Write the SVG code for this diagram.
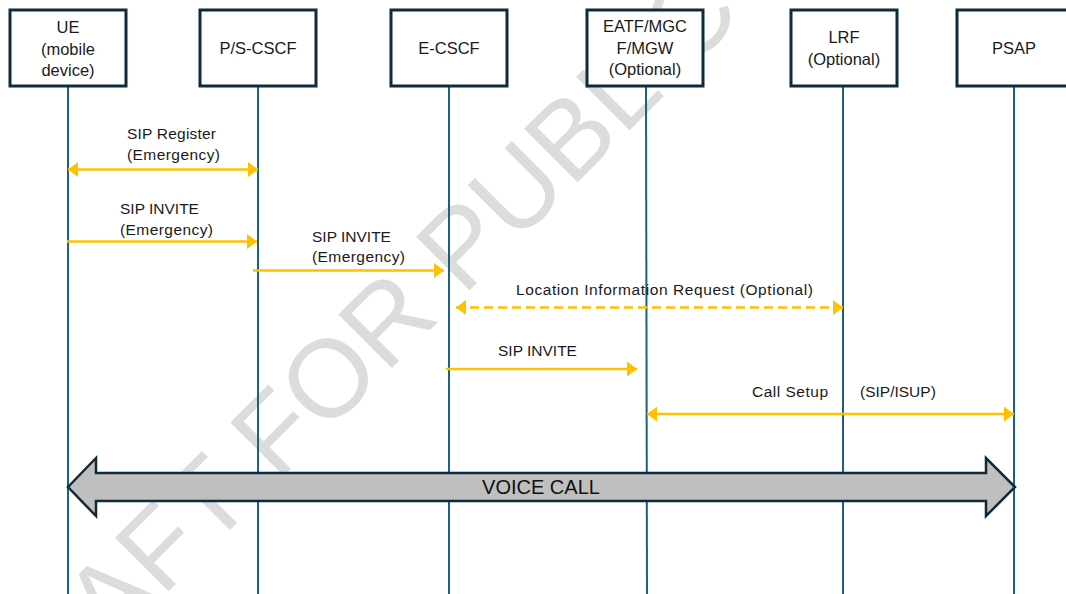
<svg xmlns="http://www.w3.org/2000/svg" width="1066" height="594" viewBox="0 0 1066 594">
  <style>
    .box { fill: #ffffff; stroke: #0f2a3a; stroke-width: 3; }
    .life { stroke: #1f5f7f; stroke-width: 2; fill: none; }
    .msg { stroke: #ffc000; stroke-width: 2.5; fill: none; }
    .dash { stroke-dasharray: 9 5; }
    .lbl { font-family: "Liberation Sans", Arial, sans-serif; font-size: 15.5px; fill: #1a1a1a; }
    .node { font-family: "Liberation Sans", Arial, sans-serif; font-size: 16.5px; fill: #1a1a1a; text-anchor: middle; }
    .wm { font-family: "Liberation Sans", Arial, sans-serif; font-size: 110px; fill: #dcdcdc; }
    .big { fill: #bfbfbf; stroke: #0f2a3a; stroke-width: 2.5; stroke-linejoin: miter; }
    .bigtxt { font-family: "Liberation Sans", Arial, sans-serif; font-size: 20px; fill: #111111; text-anchor: middle; }
  </style>
  <defs>
    <marker id="head" markerUnits="userSpaceOnUse" markerWidth="10" markerHeight="15" refX="10" refY="7.5" orient="auto-start-reverse">
      <path d="M0,0 L10,7.5 L0,15 z" fill="#ffc000"/>
    </marker>
  </defs>

  <!-- background watermark -->
  <text class="wm" transform="translate(-2 762) rotate(-45)">DRAFT FOR PUBLIC</text>

  <!-- lifelines -->
  <g id="lifelines">
    <line class="life" x1="68" y1="87" x2="68" y2="594"/>
    <line class="life" x1="258" y1="87" x2="258" y2="594"/>
    <line class="life" x1="449" y1="87" x2="449" y2="594"/>
    <line class="life" x1="646" y1="87" x2="647" y2="594"/>
    <line class="life" x1="843" y1="87" x2="843" y2="594"/>
    <line class="life" x1="1014" y1="87" x2="1014" y2="594"/>
  </g>

  <!-- participants -->
  <g id="ue">
    <rect class="box" x="10" y="10" width="116" height="76"/>
    <text class="node" x="68" y="33">UE</text>
    <text class="node" x="68" y="55">(mobile</text>
    <text class="node" x="68" y="76">device)</text>
  </g>
  <g id="ps-cscf">
    <rect class="box" x="200" y="10" width="116" height="76"/>
    <text class="node" x="258" y="54">P/S-CSCF</text>
  </g>
  <g id="e-cscf">
    <rect class="box" x="391" y="10" width="116" height="76"/>
    <text class="node" x="449" y="54">E-CSCF</text>
  </g>
  <g id="eatf">
    <rect class="box" x="587" y="10" width="116" height="76"/>
    <text class="node" x="645" y="32">EATF/MGC</text>
    <text class="node" x="645" y="54">F/MGW</text>
    <text class="node" x="645" y="75">(Optional)</text>
  </g>
  <g id="lrf">
    <rect class="box" x="791" y="10" width="106" height="76"/>
    <text class="node" x="844" y="43">LRF</text>
    <text class="node" x="844" y="65">(Optional)</text>
  </g>
  <g id="psap">
    <rect class="box" x="957" y="10" width="116" height="76"/>
    <text class="node" x="1014" y="54">PSAP</text>
  </g>

  <!-- messages -->
  <g id="connectors">
    <line class="msg" x1="68" y1="169.5" x2="258" y2="169.5" marker-start="url(#head)" marker-end="url(#head)"/>
    <text class="lbl" x="127" y="139" textLength="89" lengthAdjust="spacing">SIP Register</text>
    <text class="lbl" x="127" y="160" textLength="93" lengthAdjust="spacing">(Emergency)</text>

    <line class="msg" x1="67" y1="241.5" x2="257" y2="241.5" marker-end="url(#head)"/>
    <text class="lbl" x="120" y="214">SIP INVITE</text>
    <text class="lbl" x="120" y="235" textLength="93" lengthAdjust="spacing">(Emergency)</text>

    <line class="msg" x1="253" y1="270.5" x2="444" y2="270.5" marker-end="url(#head)"/>
    <text class="lbl" x="312" y="242">SIP INVITE</text>
    <text class="lbl" x="312" y="262" textLength="93" lengthAdjust="spacing">(Emergency)</text>

    <line class="msg dash" x1="456" y1="307.5" x2="843" y2="307.5" marker-start="url(#head)" marker-end="url(#head)"/>
    <text class="lbl" x="516" y="295" textLength="297" lengthAdjust="spacing">Location Information Request (Optional)</text>

    <line class="msg" x1="446" y1="369" x2="637" y2="369" marker-end="url(#head)"/>
    <text class="lbl" x="498" y="356">SIP INVITE</text>

    <line class="msg" x1="647" y1="414" x2="1014" y2="414" marker-start="url(#head)" marker-end="url(#head)"/>
    <text class="lbl" x="752" y="397" textLength="76" lengthAdjust="spacing">Call Setup</text>
    <text class="lbl" x="860" y="397">(SIP/ISUP)</text>
  </g>

  <!-- voice call span -->
  <g id="voice-call">
    <path class="big" d="M68,487 L96,458 L96,473 L986,473 L986,458 L1015,487 L986,516 L986,501 L96,501 L96,516 Z"/>
    <text class="bigtxt" x="541" y="494">VOICE CALL</text>
  </g>
</svg>
